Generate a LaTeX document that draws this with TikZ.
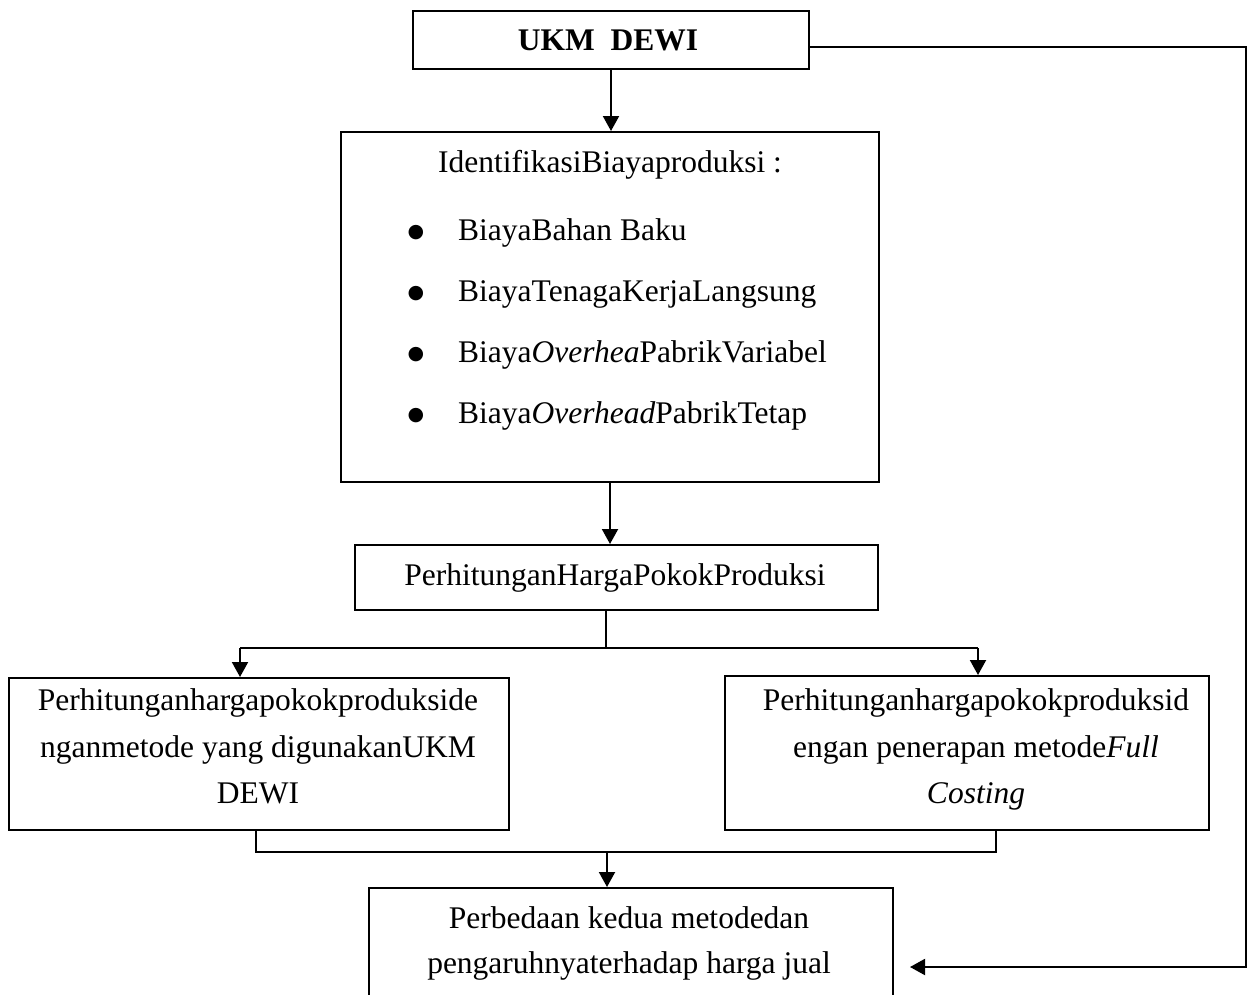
\documentclass[tikz,border=0pt]{standalone}
\usepackage{fontspec}
\setmainfont{Liberation Serif}
\newfontfamily\symfont{DejaVu Sans}
\usetikzlibrary{arrows.meta}
\begin{document}
\begin{tikzpicture}[x=1pt,y=-1pt,
  box/.style={draw, line width=2pt, inner sep=0pt, anchor=north west},
  txt/.style={anchor=base, inner sep=0pt, font=\fontsize{31.5}{37}\selectfont},
  txtw/.style={txt, anchor=base west},
  bul/.style={inner sep=0pt, anchor=center, font=\symfont\fontsize{19}{20}\selectfont},
  conn/.style={line width=2pt},
  arr/.style={conn, -{Triangle[width=16pt,length=15pt]}}]
\useasboundingbox (0,0) rectangle (1251,994);
\clip (0,0) rectangle (1251,994);
% boxes
\node[box, minimum width=396pt, minimum height=58pt] (ukm) at (412,10) {};
\node[box, minimum width=538pt, minimum height=350pt] (ident) at (340,131) {};
\node[box, minimum width=523pt, minimum height=65pt] (hpp) at (354,544) {};
\node[box, minimum width=500pt, minimum height=152pt] (left) at (8,677) {};
\node[box, minimum width=484pt, minimum height=154pt] (right) at (724,675) {};
\node[box, minimum width=524pt, minimum height=160pt] (beda) at (368,887) {};
% texts
\node[txt, font=\bfseries\fontsize{31.5}{37}\selectfont] (tukm) at (608,50) {UKM\ \ DEWI};
\node[txt] (tid) at (610,172) {IdentifikasiBiayaproduksi :};
\node[bul] (b1) at (416,233) {●};
\node[bul] (b2) at (416,294) {●};
\node[bul] (b3) at (416,355) {●};
\node[bul] (b4) at (416,416) {●};
\node[txtw] (i1) at (458,240) {BiayaBahan Baku};
\node[txtw] (i2) at (458,301) {BiayaTenagaKerjaLangsung};
\node[txtw] (i3) at (458,362) {Biaya\textit{Overhea}PabrikVariabel};
\node[txtw] (i4) at (458,423) {Biaya\textit{Overhead}PabrikTetap};
\node[txt] (thpp) at (615,585) {PerhitunganHargaPokokProduksi};
\node[txt] (l1) at (258,710) {Perhitunganhargapokokprodukside};
\node[txt] (l2) at (258,757) {nganmetode yang digunakanUKM};
\node[txt] (l3) at (258,803) {DEWI};
\node[txt] (r1) at (976,710) {Perhitunganhargapokokproduksid};
\node[txt] (r2) at (976,757) {engan penerapan metode\textit{Full}};
\node[txt] (r3) at (976,803) {\textit{Costing}};
\node[txt] (d1) at (629,928) {Perbedaan kedua metodedan};
\node[txt] (d2) at (629,973) {pengaruhnyaterhadap harga jual};
% connectors
\draw[arr] (ukm.south) -- (ukm.south |- ident.north);
\draw[arr] (ident.south) -- (ident.south |- hpp.north);
\coordinate (s) at (606,648);
\coordinate (la) at (240,648);
\coordinate (ra) at (978,648);
\draw[conn] (s |- hpp.south) -- (s);
\draw[conn] (la) -- (ra);
\draw[arr] (la) -- (la |- left.north);
\draw[arr] (ra) -- (ra |- right.north);
\coordinate (ml) at (256,852);
\coordinate (mr) at (996,852);
\coordinate (mm) at (607,852);
\draw[conn] (ml |- left.south) -- (ml) -- (mr) -- (mr |- right.south);
\draw[arr] (mm) -- (mm |- beda.north);
\coordinate (f1) at (1246,47);
\coordinate (f2) at (1246,967);
\coordinate (f3) at (910,967);
\draw[arr] (ukm.east |- f1) -- (f1) -- (f2) -- (f3);
\end{tikzpicture}
\end{document}
